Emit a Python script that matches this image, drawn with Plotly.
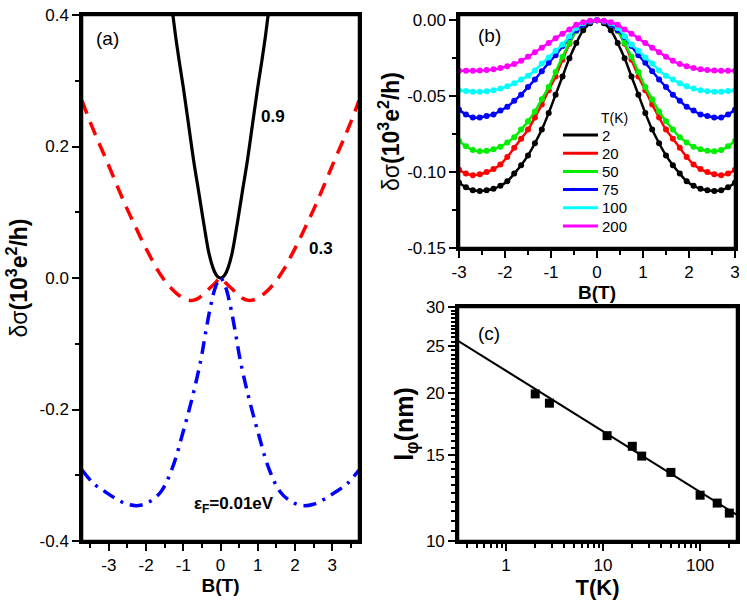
import plotly.graph_objects as go

# ---- panel (a): calculated curves ----
B_a_09 = [-1.36, -1.28, -1.2, -1.11, -1.0, -0.85, -0.72, -0.58, -0.45, -0.31, -0.2, -0.12, -0.05, 0,
          0.05, 0.12, 0.2, 0.31, 0.45, 0.58, 0.72, 0.85, 1.0, 1.11, 1.2, 1.28, 1.36]
ds_a_09 = [0.43, 0.40, 0.365, 0.33, 0.29, 0.23, 0.178, 0.129, 0.083, 0.0375, 0.015, 0.005, 0.0008, 0,
           0.0008, 0.005, 0.015, 0.0375, 0.083, 0.129, 0.178, 0.23, 0.29, 0.33, 0.365, 0.40, 0.43]

B_a_03 = [-3.72, -3.5, -3.3, -3.1, -2.9, -2.7, -2.5, -2.3, -2.1, -1.9, -1.7, -1.5, -1.3, -1.1, -0.9,
          -0.75, -0.6, -0.45, -0.3, -0.15, 0, 0.15, 0.3, 0.45, 0.6, 0.75, 0.9, 1.1, 1.3, 1.5, 1.7,
          1.9, 2.1, 2.3, 2.5, 2.7, 2.9, 3.1, 3.3, 3.5, 3.72]
ds_a_03 = [0.27, 0.237, 0.21, 0.184, 0.157, 0.13, 0.104, 0.08, 0.056, 0.034, 0.013, -0.004, -0.017,
           -0.027, -0.033, -0.034, -0.031, -0.024, -0.016, -0.008, 0, -0.008, -0.016, -0.024, -0.031,
           -0.034, -0.033, -0.027, -0.017, -0.004, 0.013, 0.034, 0.056, 0.08, 0.104, 0.13, 0.157,
           0.184, 0.21, 0.237, 0.27]

B_a_001 = [-3.72, -3.4, -3.1, -2.8, -2.5, -2.2, -1.9, -1.6, -1.3, -1.0, -0.75, -0.53, -0.4, -0.27,
           -0.13, 0, 0.13, 0.27, 0.4, 0.53, 0.75, 1.0, 1.3, 1.6, 1.9, 2.2, 2.5, 2.8, 3.1, 3.4, 3.72]
ds_a_001 = [-0.292, -0.313, -0.325, -0.336, -0.344, -0.346, -0.34, -0.325, -0.29, -0.233, -0.18,
            -0.125, -0.083, -0.044, -0.013, 0, -0.013, -0.044, -0.083, -0.125, -0.18, -0.233, -0.29,
            -0.325, -0.34, -0.346, -0.344, -0.336, -0.325, -0.313, -0.292]

# ---- panel (b): magnetoconductance vs B at several T ----
B_b = [-3.0, -2.85, -2.7, -2.55, -2.4, -2.25, -2.1, -1.95, -1.8, -1.65, -1.5, -1.35, -1.2, -1.05,
       -0.9, -0.75, -0.6, -0.45, -0.3, -0.15, 0.0, 0.15, 0.3, 0.45, 0.6, 0.75, 0.9, 1.05, 1.2, 1.35,
       1.5, 1.65, 1.8, 1.95, 2.1, 2.25, 2.4, 2.55, 2.7, 2.85, 3.0]
temps = ['2', '20', '50', '75', '100', '200']
colors = ['black', '#ff0000', '#00ee00', '#0000ff', '#00ffff', '#ff00ff']
ds_2K = [-0.107, -0.110, -0.112, -0.1125, -0.112, -0.111, -0.109, -0.106, -0.101, -0.0955, -0.089,
         -0.081, -0.072, -0.061, -0.049, -0.037, -0.025, -0.015, -0.0065, -0.002, 0.0, -0.002,
         -0.0065, -0.015, -0.025, -0.037, -0.049, -0.061, -0.072, -0.081, -0.089, -0.0955, -0.101,
         -0.106, -0.109, -0.111, -0.112, -0.1125, -0.112, -0.110, -0.107]
ds_20K = [-0.0985, -0.101, -0.102, -0.1015, -0.100, -0.098, -0.095, -0.090, -0.084, -0.078, -0.072,
          -0.064, -0.0555, -0.046, -0.037, -0.026, -0.0155, -0.007, -0.003, -0.001, 0.0, -0.001,
          -0.003, -0.007, -0.0155, -0.026, -0.037, -0.046, -0.0555, -0.064, -0.072, -0.078, -0.084,
          -0.090, -0.095, -0.098, -0.100, -0.1015, -0.102, -0.101, -0.0985]
ds_50K = [-0.0795, -0.083, -0.0855, -0.0863, -0.086, -0.085, -0.0833, -0.0805, -0.077, -0.072,
          -0.0665, -0.060, -0.052, -0.044, -0.034, -0.024, -0.015, -0.007, -0.003, -0.001, 0.0,
          -0.001, -0.003, -0.007, -0.015, -0.024, -0.034, -0.044, -0.052, -0.060, -0.0665, -0.072,
          -0.077, -0.0805, -0.0833, -0.085, -0.086, -0.0863, -0.0855, -0.083, -0.0795]
ds_75K = [-0.059, -0.062, -0.064, -0.064, -0.063, -0.062, -0.0595, -0.057, -0.053, -0.049, -0.044,
          -0.039, -0.0335, -0.028, -0.023, -0.017, -0.011, -0.0065, -0.003, -0.001, 0.0, -0.001,
          -0.003, -0.0065, -0.011, -0.017, -0.023, -0.028, -0.0335, -0.039, -0.044, -0.049, -0.053,
          -0.057, -0.0595, -0.062, -0.063, -0.064, -0.064, -0.062, -0.059]
ds_100K = [-0.046, -0.0466, -0.047, -0.047, -0.0467, -0.046, -0.045, -0.0435, -0.0415, -0.039,
           -0.0365, -0.033, -0.0285, -0.0245, -0.020, -0.016, -0.0105, -0.005, -0.002, -0.0005, 0.0,
           -0.0005, -0.002, -0.005, -0.0105, -0.016, -0.020, -0.0245, -0.0285, -0.033, -0.0365,
           -0.039, -0.0415, -0.0435, -0.045, -0.046, -0.0467, -0.047, -0.047, -0.0466, -0.046]
ds_200K = [-0.0332, -0.0333, -0.0333, -0.0331, -0.0328, -0.0323, -0.0315, -0.0303, -0.0288, -0.0267,
           -0.024, -0.021, -0.018, -0.015, -0.0118, -0.0088, -0.006, -0.003, -0.0013, -0.0003, 0.0,
           -0.0003, -0.0013, -0.003, -0.006, -0.0088, -0.0118, -0.015, -0.018, -0.021, -0.024,
           -0.0267, -0.0288, -0.0303, -0.0315, -0.0323, -0.0328, -0.0331, -0.0333, -0.0333, -0.0332]
ds_b = [ds_2K, ds_20K, ds_50K, ds_75K, ds_100K, ds_200K]

# ---- panel (c): phase coherence length vs T ----
T_c = [2, 2.8, 11, 20, 25, 50, 100, 150, 200]
l_phi = [19.95, 19.1, 16.4, 15.6, 14.9, 13.8, 12.4, 11.95, 11.4]
T_fit = [0.32, 240]
l_fit = [25.6, 11.3]

# tick labels (plain hyphen minus, like the original)
xa_ticks = [-3, -2, -1, 0, 1, 2, 3]
xa_text = ['-3', '-2', '-1', '0', '1', '2', '3']
ya_ticks = [-0.4, -0.2, 0.0, 0.2, 0.4]
ya_text = ['-0.4', '-0.2', '0.0', '0.2', '0.4']
yb_ticks = [-0.15, -0.10, -0.05, 0.0]
yb_text = ['-0.15', '-0.10', '-0.05', '0.00']
xc_ticks = [1, 10, 100]
yc_ticks = [10, 15, 20, 25, 30]

FONT = 'Arial'
fig = go.Figure()

fig.add_trace(go.Scatter(x=B_a_09, y=ds_a_09, mode='lines', line=dict(color='black', width=3.2, shape='spline'),
                         xaxis='x', yaxis='y', showlegend=False))
fig.add_trace(go.Scatter(x=B_a_03, y=ds_a_03, mode='lines',
                         line=dict(color='#ff0000', width=3.5, dash='14px,9px', shape='spline'),
                         xaxis='x', yaxis='y', showlegend=False))
fig.add_trace(go.Scatter(x=B_a_001, y=ds_a_001, mode='lines',
                         line=dict(color='#0000ff', width=3.5, dash='13px,7px,3px,7px', shape='spline'),
                         xaxis='x', yaxis='y', showlegend=False))

for c, ds in zip(colors, ds_b):
    fig.add_trace(go.Scatter(x=B_b, y=ds, mode='lines+markers',
                             line=dict(color=c, width=2.5, shape='spline'),
                             marker=dict(color=c, size=6),
                             xaxis='x2', yaxis='y2', showlegend=False))

fig.add_trace(go.Scatter(x=T_fit, y=l_fit, mode='lines', line=dict(color='black', width=2),
                         xaxis='x3', yaxis='y3', showlegend=False))
fig.add_trace(go.Scatter(x=T_c, y=l_phi, mode='markers', marker=dict(symbol='square', color='black', size=9),
                         xaxis='x3', yaxis='y3', showlegend=False))


def ax(**kw):
    d = dict(showline=True, linecolor='black', linewidth=2.5, mirror=True, ticks='outside',
             ticklen=7, tickwidth=1.5, tickcolor='black', showgrid=False, zeroline=False,
             automargin=False, tickfont=dict(family=FONT, size=17, color='black'))
    d.update(kw)
    return d


minor_lin = dict(ticks='outside', ticklen=4, tickwidth=1.5, tickcolor='black', showgrid=False)

log_minor_x = [k * 10 ** e for e in (-1, 0, 1) for k in range(2, 10)] + [200]
log_minor_x = [v for v in log_minor_x if 0.32 <= v <= 240]
minor_y_c = [10 + 0.5 * i for i in range(41) if (10 + 0.5 * i) % 5 != 0]

ytitle = 'δσ<b>(10<sup>3</sup>e<sup>2</sup>/h)</b>'

fig.update_layout(
    width=747, height=600, plot_bgcolor='white', paper_bgcolor='white',
    margin=dict(l=0, r=0, t=0, b=0), showlegend=False,
    font=dict(family=FONT, color='black'),
    xaxis=ax(domain=[0.1098, 0.4806], range=[-3.72, 3.72], anchor='y',
             tickvals=xa_ticks, ticktext=xa_text,
             minor=dict(dtick=0.5, **minor_lin),
             title=dict(text='<b>B(T)</b>', font=dict(size=19), standoff=2)),
    yaxis=ax(domain=[0.0983, 0.975], range=[-0.4, 0.4], anchor='x',
             tickvals=ya_ticks, ticktext=ya_text,
             minor=dict(dtick=0.1, **minor_lin),
             title=dict(text=ytitle, font=dict(size=23), standoff=6)),
    xaxis2=ax(domain=[0.6145, 0.9839], range=[-3, 3], anchor='y2',
              tickvals=xa_ticks, ticktext=xa_text,
              minor=dict(dtick=0.5, **minor_lin),
              title=dict(text='<b>B(T)</b>', font=dict(size=19), standoff=0)),
    yaxis2=ax(domain=[0.5867, 0.975], range=[-0.15, 0.0035], anchor='x2',
              tickvals=yb_ticks, ticktext=yb_text,
              minor=dict(dtick=0.025, **minor_lin),
              title=dict(text=ytitle, font=dict(size=23), standoff=2)),
    xaxis3=ax(domain=[0.6131, 0.9866], type='log', range=[-0.495, 2.38], anchor='y3',
              tickvals=xc_ticks, ticktext=[str(v) for v in xc_ticks],
              minor=dict(tickvals=log_minor_x, **minor_lin),
              title=dict(text='<b>T(K)</b>', font=dict(size=22), standoff=2)),
    yaxis3=ax(domain=[0.0983, 0.4883], type='log', range=[1, 1.4771], anchor='x3',
              tickvals=yc_ticks, ticktext=[str(v) for v in yc_ticks],
              minor=dict(tickvals=minor_y_c, **minor_lin),
              title=dict(text='<b>l<sub>φ</sub>(nm)</b>', font=dict(size=25), standoff=6)),
)

# heavy black frame around each panel
for xr, yr in (('x', 'y'), ('x2', 'y2'), ('x3', 'y3')):
    fig.add_shape(type='rect', xref=f'{xr} domain', yref=f'{yr} domain', x0=0, x1=1, y0=0, y1=1,
                  line=dict(color='black', width=2.5), layer='above')


def paper_x(px):
    return px / 747


def paper_y(py):
    return 1 - py / 600


def label(text, px, py, size, xanchor='center'):
    fig.add_annotation(text=text, x=paper_x(px), y=paper_y(py),
                       xref='paper', yref='paper', xanchor=xanchor, yanchor='middle', showarrow=False,
                       font=dict(family=FONT, size=size, color='black'))


label('(a)', 107, 38, 19)
label('(b)', 489, 35, 19)
label('(c)', 489, 333, 19)

# legend of panel (b), drawn by hand to match the tight spacing
label('T(K)', 614, 118, 14)
leg_x0, leg_x1, leg_y0, leg_dy = 563, 598, 135, 18.2
for i, (t, c) in enumerate(zip(temps, colors)):
    yy = paper_y(leg_y0 + i * leg_dy)
    fig.add_shape(type='line', xref='paper', yref='paper', x0=paper_x(leg_x0), x1=paper_x(leg_x1),
                  y0=yy, y1=yy, line=dict(color=c, width=3))
    label(t, 600, leg_y0 + i * leg_dy, 15, xanchor='left')

fig.add_annotation(text='<b>0.9</b>', x=1.42, y=0.246, xref='x', yref='y', showarrow=False,
                   font=dict(family=FONT, size=17, color='black'))
fig.add_annotation(text='<b>0.3</b>', x=2.7, y=0.045, xref='x', yref='y', showarrow=False,
                   font=dict(family=FONT, size=17, color='black'))
fig.add_annotation(text='<b>ε<sub>F</sub>=0.01eV</b>', x=0.35, y=-0.345, xref='x', yref='y',
                   showarrow=False, font=dict(family=FONT, size=17, color='black'))

fig.write_html("out.html", config={'displayModeBar': False},
               post_script="document.body.style.margin='0px';")
